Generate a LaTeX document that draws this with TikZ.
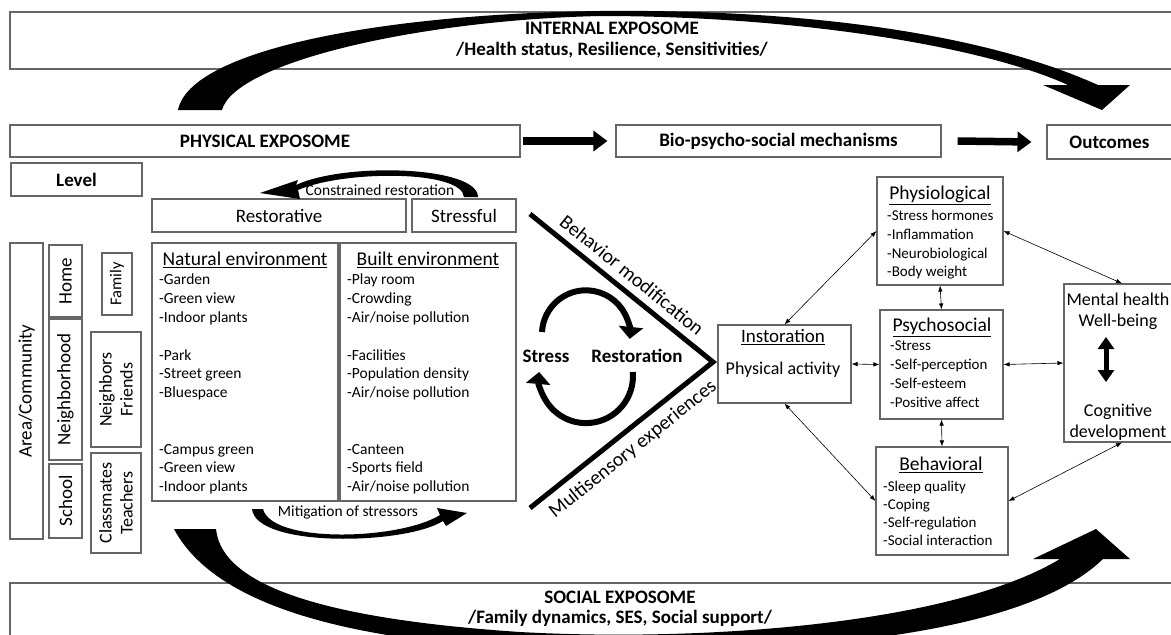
\documentclass[tikz,border=0pt]{standalone}
\usepackage{fontspec}
\setmainfont{Carlito}
\usetikzlibrary{arrows.meta}

\newcommand{\bigfont}{\fontsize{19}{20.5}\selectfont}
\newcommand{\midfont}{\fontsize{18}{21}\selectfont}
\newcommand{\listfont}{\fontsize{15.5}{18.8}\selectfont}

\tikzset{
	box/.style={draw=black!60, line width=1.1pt, inner sep=0pt},
	title/.style={font=\bigfont\bfseries, align=center},
	listtext/.style={font=\listfont, align=left, anchor=north west, inner sep=0pt},
	twoway/.style={{Latex[length=6pt,width=4.5pt]}-{Latex[length=6pt,width=4.5pt]}, line width=0.6pt},
	fatarrow/.style={-{Triangle[width=20pt,length=14pt]}, line width=7.5pt},
	loopline/.style={-{Triangle[width=24pt,length=12pt]}, line width=6pt},
}

\begin{document}
\begin{tikzpicture}[x=1pt,y=-1pt]
		
		\useasboundingbox (0,0) rectangle (1171,635);
		\clip (0,0) rectangle (1171,635);
		
		% exposome frames
		\node[box, minimum width=1170pt, minimum height=57pt] (internal) at (595,40.5) {};
		\node[title] (internaltxt) at (612,40) {INTERNAL EXPOSOME\\/Health status, Resilience, Sensitivities/};
		\node[box, minimum width=1170pt, minimum height=67pt] (social) at (595,616.5) {};
		\node[title] (socialtxt) at (620,609) {SOCIAL EXPOSOME\\/Family dynamics, SES, Social support/};
		
		% header row
		\node[box, minimum width=510pt, minimum height=32pt, font=\bigfont\bfseries] (phys) at (265,141) {PHYSICAL EXPOSOME};
		\node[box, minimum width=325pt, minimum height=32pt, font=\bigfont\bfseries] (bio) at (778.5,141) {Bio-psycho-social mechanisms};
		\node[box, minimum width=125pt, minimum height=34pt, font=\bigfont\bfseries] (outc) at (1109.5,142) {Outcomes};
		\draw[fatarrow] ([xshift=2pt]phys.east) -- ([xshift=-8pt]bio.west);
		\draw[fatarrow] ([xshift=16pt]bio.east) -- ([xshift=-15pt]outc.west);
		
		% levels
		\node[box, minimum width=131pt, minimum height=33pt, font=\bigfont\bfseries] (level) at (76.5,179.5) {Level};
		\node[box, rotate=90, minimum width=296pt, minimum height=33pt, font=\bigfont] (area) at (26.5,391) {Area/Community};
		\node[box, rotate=90, minimum width=72pt, minimum height=33pt, font=\bigfont] (home) at (65.5,281) {Home};
		\node[box, rotate=90, minimum width=141pt, minimum height=33pt, font=\bigfont] (neigh) at (65.5,389.5) {Neighborhood};
		\node[box, rotate=90, minimum width=74pt, minimum height=33pt, font=\bigfont] (school) at (65.5,501) {School};
		\node[box, rotate=90, minimum width=62pt, minimum height=30pt, font=\fontsize{16.5}{19}\selectfont] (family) at (117,284) {Family};
		\node[box, rotate=90, minimum width=115pt, minimum height=50pt, font=\midfont, align=center] (friends) at (116,389.5) {Neighbors\\Friends};
		\node[box, rotate=90, minimum width=100pt, minimum height=50pt, font=\midfont, align=center] (mates) at (116,503) {Classmates\\Teachers};
		
		% environments
		\node[box, minimum width=254pt, minimum height=33pt, font=\bigfont] (resto) at (279,215.5) {Restorative};
		\node[box, minimum width=104pt, minimum height=33pt, font=\bigfont] (stressful) at (464,215.5) {Stressful};
		\node[box, minimum width=186pt, minimum height=258pt] (natural) at (245,372) {};
		\node[box, minimum width=176pt, minimum height=258pt] (built) at (428,372) {};
		\node[font=\fontsize{19.5}{21}\selectfont] (naturalhead) at (245,260) {\underline{Natural environment}};
		\node[font=\fontsize{19.5}{21}\selectfont] (builthead) at (428,260) {\underline{Built environment}};
		\node[listtext] (naturallist) at (159,274) {-Garden\\-Green view\\-Indoor plants\\[18.8pt]-Park\\-Street green\\-Bluespace\\[37.6pt]-Campus green\\-Green view\\-Indoor plants};
		\node[listtext] (builtlist) at (347,274) {-Play room\\-Crowding\\-Air/noise pollution\\[18.8pt]-Facilities\\-Population density\\-Air/noise pollution\\[37.6pt]-Canteen\\-Sports field\\-Air/noise pollution};
		
		% constrained restoration / mitigation
		\node[font=\listfont] (constr) at (380,190) {Constrained restoration};
		\fill (478,197) .. controls (478,166) and (345,162) .. (296,185) -- (298,180) -- (260,193) -- (300,199) -- (298,190) .. controls (345,170) and (462,170) .. (464,197) -- cycle;
		\node[font=\listfont] (mitig) at (348,512) {Mitigation of stressors};
		\fill (252,509) .. controls (256,548) and (405,545) .. (443,521) -- (446,526) -- (467,513) -- (437,508) -- (440,515) .. controls (400,540) and (272,544) .. (263,509) -- cycle;
		
		% stress - restoration cycle
		\node[font=\bigfont\bfseries] (stress) at (546,356) {Stress};
		\node[font=\bigfont\bfseries] (restor) at (637,356) {Restoration};
		\draw[loopline] (542,332) arc[start angle=183, end angle=366, radius=44];
		\draw[loopline] (632.8,372) arc[start angle=-5, end angle=185, radius=47];
		
		% pathways
		\coordinate (vtop) at (530,214);
		\coordinate (vtip) at (713,362);
		\coordinate (vbot) at (530,508);
		\draw[line width=5pt] (vtop) -- node[midway, above=4pt, sloped, font=\fontsize{20}{22}\selectfont] {Behavior modification} (vtip)
			-- node[pos=0.5, below=4pt, sloped, font=\fontsize{20}{22}\selectfont] {Multisensory experiences} (vbot);
		
		% mechanisms
		\node[box, minimum width=133pt, minimum height=78pt] (instor) at (784.5,364) {};
		\node[font=\bigfont] (instorhead) at (783,337) {\underline{Instoration}};
		\node[font=\midfont] (physact) at (783,370) {Physical activity};
		
		\node[box, minimum width=126pt, minimum height=108pt] (physio) at (940,231) {};
		\node[font=\fontsize{19.5}{21}\selectfont] (physiohead) at (940,195) {\underline{Physiological}};
		\node[listtext, font=\fontsize{15}{18.7}\selectfont] (physiolist) at (887,210) {-Stress hormones\\-Inflammation\\-Neurobiological\\-Body weight};
		
		\node[box, minimum width=123pt, minimum height=109pt] (psycho) at (941.5,364.5) {};
		\node[font=\fontsize{19.5}{21}\selectfont] (psychohead) at (942,327) {\underline{Psychosocial}};
		\node[listtext, font=\fontsize{15}{18.7}\selectfont] (psycholist) at (890,341) {-Stress\\-Self-perception\\-Self-esteem\\-Positive affect};
		
		\node[box, minimum width=132pt, minimum height=108pt] (behav) at (942,501) {};
		\node[font=\fontsize{19.5}{21}\selectfont] (behavhead) at (941,465) {\underline{Behavioral}};
		\node[listtext, font=\fontsize{15}{18}\selectfont] (behavlist) at (883,481) {-Sleep quality\\-Coping\\-Self-regulation\\-Social interaction};
		
		% outcomes
		\node[box, minimum width=116pt, minimum height=158pt] (mental) at (1122,363) {};
		\node[font=\midfont, align=center] (menttxt) at (1118,311) {Mental health\\Well-being};
		\node[font=\midfont, align=center] (cogtxt) at (1118,422) {Cognitive\\development};
		\coordinate (mtop) at (1106,337);
		\coordinate (mbot) at (1106,382);
		\draw[{Triangle[width=16pt,length=12pt]}-{Triangle[width=16pt,length=12pt]}, line width=5pt] (mtop) -- (mbot);
		
		\draw[twoway] (instor.north) -- (physio.west);
		\draw[twoway] (instor.east) -- (psycho.west);
		\draw[twoway] (instor.south) -- (behav.west);
		\draw[twoway] (physio.south) -- (psycho.north);
		\draw[twoway] (psycho.south) -- (behav.north);
		\draw[twoway] (physio.east) -- (mental.north);
		\draw[twoway] (psycho.east) -- (mental.west);
		\draw[twoway] (behav.east) -- (mental.south);
		
		% big curved arrows
		\fill (178,110) .. controls (190,50) and (380,14) .. (600,11) .. controls (800,9) and (980,32) .. (1098,85) -- (1130,85) -- (1102,110) -- (1043,85) -- (1068,85) .. controls (985,47) and (800,16) .. (600,16) .. controls (420,20) and (235,62) .. (222,110) -- cycle;
		\fill (216,529) .. controls (222,590) and (340,620) .. (520,632) .. controls (700,642) and (950,625) .. (1060,559) -- (1033,559) -- (1096,529) -- (1130,559) -- (1103,559) .. controls (1040,620) and (880,650) .. (640,652) .. controls (420,652) and (225,625) .. (174,529) -- cycle;
		
\end{tikzpicture}
\end{document}
